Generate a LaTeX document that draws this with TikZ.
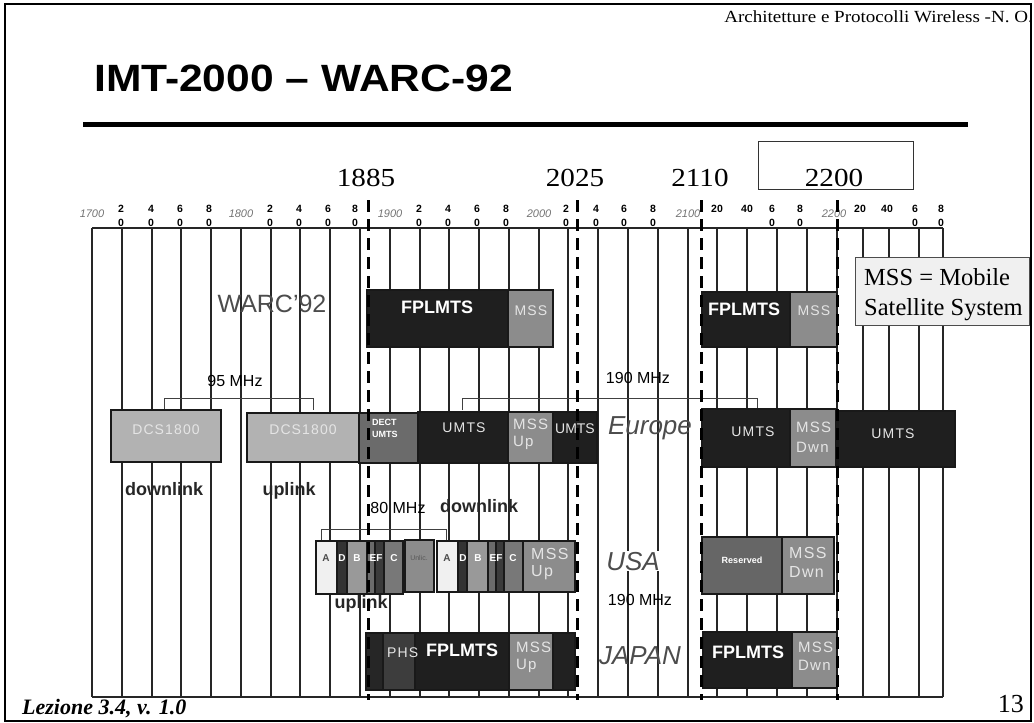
\documentclass[tikz,border=0pt]{standalone}
\usepackage{fontspec}
\usepackage{graphicx}
\setmainfont{Liberation Serif}
\setsansfont{Liberation Sans}
\newfontfamily\spacedsf[LetterSpace=8]{Liberation Sans}
\newcommand{\fsz}[1]{\fontsize{#1}{#1}\selectfont}

\begin{document}
\begin{tikzpicture}[x=1pt, y=-1pt,
    gridline/.style={black!85, line width=1.1pt},
    band/.style={draw=black!90, line width=1.3pt},
    cutoff/.style={black, line width=3pt, dash pattern=on 12pt off 7pt},
    mhzbracket/.style={black!75, line width=0.9pt},
    inband/.style={font=\spacedsf\fsz{14}, text=black!10},
    fpl/.style={font=\sffamily\bfseries\fsz{18}, text=white},
    letter/.style={font=\sffamily\bfseries\fsz{10}, text=white},
    region/.style={font=\sffamily\itshape\fsz{26}, text=black!70, anchor=base},
    mhz/.style={font=\sffamily\fsz{16}, anchor=base},
    linklabel/.style={font=\sffamily\bfseries\fsz{18}, text=black!85, anchor=base},
    tickdig/.style={font=\sffamily\bfseries\fsz{10.5}},
    tickyear/.style={font=\sffamily\itshape\fsz{11}, text=black!55},
    freq/.style={font=\fsz{26}, anchor=base}]
\useasboundingbox (0,0) rectangle (1034,723);
\begin{scope}[every node/.style={inner sep=0pt}]

% slide frame and heading
\draw [line width=2.5pt] (5,4) rectangle (1031,721);
\node [font=\fsz{17}, anchor=base east] (hdr) at (1033,22)
    {\scalebox{1.12}[1]{Architetture e Protocolli Wireless -N. O.}};
\node [font=\sffamily\bfseries\fsz{38}, anchor=base west] (title) at (94,91)
    {\scalebox{1.12}[1]{IMT-2000 -- WARC-92}};
\fill [black] (83,121.5) rectangle (968,126.5);
\node [font=\fsz{22}\bfseries\itshape, anchor=base west] (lez) at (22,714) {Lezione 3.4, v. 1.0};
\node [font=\fsz{26}, anchor=base east] (pagenum) at (1024,712) {13};

% band edges
\node [freq] (f1885) at (366,186) {\scalebox{1.12}[1]{1885}};
\node [freq] (f2025) at (575,186) {\scalebox{1.12}[1]{2025}};
\node [freq] (f2110) at (700,186) {\scalebox{1.12}[1]{2110}};
\node [freq] (f2200) at (834,186) {\scalebox{1.12}[1]{2200}};
\draw [black!80, line width=0.8pt] (758,141) rectangle (913,189);

% frequency grid
\foreach \x in {92,122,152,181,211,241,271,300,330,360,390,420,449,479,509,
                539,568,598,628,658,688,717,747,777,807,837,863,889,919,943}
  \draw [gridline] (\x,228) -- (\x,697);
\draw [gridline] (92,228) -- (943,228);
\draw [gridline] (92,697) -- (943,697);

\foreach \x/\y in {92/1700,241/1800,390/1900,539/2000,688/2100,834/2200}
  \node [tickyear] (yr\y) at (\x,214) {\y};
\foreach \x/\d in {121/2,151/4,180/6,209/8,270/2,299/4,328/6,355/8,
                   419/2,448/4,477/6,506/8,566/2,596/4,624/6,653/8,
                   772/6,800/8,915/6,941/8}
{
  \node [tickdig] (td\x) at (\x,209) {\d};
  \node [tickdig] (tz\x) at (\x,223) {0};
}
\foreach \x/\d in {717/20,747/40,860/20,887/40}
  \node [tickdig] (tw\x) at (\x,209) {\d};

% note box
\filldraw [draw=black!70, fill=black!6, line width=1pt] (855,257) rectangle (1029,325);
\node [font=\fsz{24.5}, anchor=base west] (note1) at (864,285) {MSS = Mobile};
\node [font=\fsz{24.5}, anchor=base west] (note2) at (864,315) {Satellite System};

% WARC'92 allocation
\node [font=\sffamily\fsz{25}, text=black!70] (warc) at (272,304) {WARC'92};
\filldraw [band, fill=black!88] (367,290) rectangle (508,347);
\filldraw [band, fill=black!45] (508,290) rectangle (553,347);
\node [fpl] (fplw1) at (437,307) {FPLMTS};
\node [inband] (mssw1) at (531,311) {MSS};
\filldraw [band, fill=black!88] (702,292) rectangle (790,347);
\filldraw [band, fill=black!45] (790,292) rectangle (837,347);
\node [fpl] (fplw2) at (744,309) {FPLMTS};
\node [inband] (mssw2) at (814,311) {MSS};

% Europe
\draw [mhzbracket] (164,410) -- (164,398) -- (313,398) -- (313,410);
\node [mhz] (mhz95) at (235,386) {95 MHz};
\draw [mhzbracket] (462,410) -- (462,398) -- (757,398) -- (757,409);
\node [mhz] (mhz190a) at (638,383) {190 MHz};
\filldraw [band, fill=black!30] (111,410) rectangle (221,462);
\node [inband] (dcs1) at (166,430) {DCS1800};
\filldraw [band, fill=black!30] (247,413) rectangle (359,462);
\node [inband] (dcs2) at (303,430) {DCS1800};
\filldraw [band, fill=black!58] (359,413) rectangle (418,463);
\node [letter, font=\sffamily\bfseries\fsz{9}, anchor=west] (dect1) at (372,422) {DECT};
\node [letter, font=\sffamily\bfseries\fsz{9}, anchor=west] (dect2) at (372,434) {UMTS};
\filldraw [band, fill=black!88] (418,412) rectangle (508,463);
\node [inband] (umts1) at (464,428) {UMTS};
\filldraw [band, fill=black!45] (508,412) rectangle (553,463);
\node [inband, font=\spacedsf\fsz{15}, anchor=west] (mssup1) at (513,424) {MSS};
\node [inband, font=\spacedsf\fsz{15}, anchor=west] (up1) at (513,443) {Up};
\filldraw [band, fill=black!88] (553,412) rectangle (597,463);
\node [inband, font=\sffamily\fsz{14}] (umts2) at (575,429) {UMTS};
\node [region] (europe) at (650,434) {Europe};
\filldraw [band, fill=black!88] (702,409) rectangle (790,467);
\filldraw [band, fill=black!45] (790,409) rectangle (836,467);
\node [inband] (umts3) at (753,432) {UMTS};
\node [inband, font=\spacedsf\fsz{15}, anchor=west] (mssdw1) at (796,427) {MSS};
\node [inband, font=\spacedsf\fsz{15}, anchor=west] (dwn1) at (796,447) {Dwn};
\filldraw [band, fill=black!88] (838,411) rectangle (955,467);
\node [inband] (umts4) at (893,434) {UMTS};

\node [linklabel] (down1) at (164,495) {downlink};
\node [linklabel] (up2) at (289,495) {uplink};
\node [mhz] (mhz80) at (398,513) {80 MHz};
\node [linklabel] (down2) at (479,512) {downlink};

% USA
\draw [mhzbracket] (321,541) -- (321,529) -- (446,529) -- (446,541);
\foreach \a/\b/\c in {316/337/black!6, 337/347/black!80, 347/367/black!40,
                      367/375/black!58, 375/384/black!77, 384/403/black!53}
  \filldraw [band, fill=\c] (\a,541) rectangle (\b,594);
\filldraw [band, fill=black!45] (405,540) rectangle (434,592);
\foreach \a/\b/\c in {437/458/black!6, 458/467/black!80, 467/488/black!40,
                      488/496/black!58, 496/504/black!77, 504/523/black!53,
                      523/575/black!45}
  \filldraw [band, fill=\c] (\a,541) rectangle (\b,592);
\node [letter, text=black!70] (ua1) at (326,558) {A};
\node [letter] (ud1) at (342,558) {D};
\node [letter] (ub1) at (357,558) {B};
\node [letter] (uef1) at (376,558) {EF};
\node [letter] (uc1) at (394,558) {C};
\node [font=\sffamily\fsz{7}, text=black!65] (unlic) at (419,558) {Unlic.};
\node [letter, text=black!70] (ua2) at (447,558) {A};
\node [letter] (ud2) at (463,558) {D};
\node [letter] (ub2) at (478,558) {B};
\node [letter] (uef2) at (496,558) {EF};
\node [letter] (uc2) at (513,558) {C};
\node [inband, font=\spacedsf\fsz{16}, anchor=west] (mssup2) at (531,554) {MSS};
\node [inband, font=\spacedsf\fsz{16}, anchor=west] (up3) at (531,573) {Up};
\node [region, fill=white, inner sep=1pt] (usa) at (633,570) {USA};
\filldraw [band, fill=black!60] (702,537) rectangle (782,594);
\node [letter, font=\sffamily\bfseries\fsz{9}] (resv) at (742,560) {Reserved};
\filldraw [band, fill=black!45] (782,537) rectangle (834,594);
\node [inband, font=\spacedsf\fsz{16}, anchor=west] (mssdw2) at (789,553) {MSS};
\node [inband, font=\spacedsf\fsz{16}, anchor=west] (dwn2) at (789,572) {Dwn};
\node [linklabel] (up4) at (361,608) {uplink};
\node [mhz] (mhz190b) at (640,605) {190 MHz};

% Japan
\foreach \a/\b/\c in {366/383/black!85, 383/415/black!76, 415/509/black!88,
                      509/553/black!45, 553/575/black!87}
  \filldraw [band, fill=\c] (\a,633) rectangle (\b,690);
\node [inband, anchor=west] (phs) at (387,653) {PHS};
\node [fpl] (fplj1) at (462,650) {FPLMTS};
\node [inband, font=\spacedsf\fsz{15}, anchor=west] (mssup3) at (516,647) {MSS};
\node [inband, font=\spacedsf\fsz{15}, anchor=west] (up5) at (516,666) {Up};
\node [region] (japan) at (640,664) {JAPAN};
\filldraw [band, fill=black!88] (703,632) rectangle (792,688);
\filldraw [band, fill=black!45] (792,632) rectangle (837,688);
\node [fpl] (fplj2) at (748,652) {FPLMTS};
\node [inband, font=\spacedsf\fsz{15}, anchor=west] (mssdw3) at (798,647) {MSS};
\node [inband, font=\spacedsf\fsz{15}, anchor=west] (dwn3) at (798,665) {Dwn};

% band edge markers
\foreach \x in {368,577,701,837}
  \draw [cutoff] (\x,200) -- (\x,700);

\end{scope}
\end{tikzpicture}
\end{document}
